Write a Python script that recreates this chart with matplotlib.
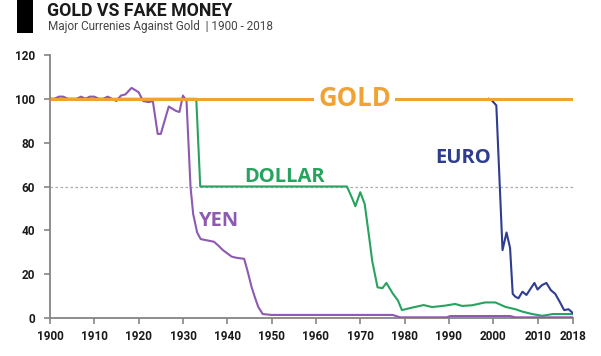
import matplotlib
matplotlib.use("Agg")
import matplotlib.pyplot as plt
from matplotlib.patches import Rectangle

# ---------------- data ----------------
gold_years = [1900, 2018]
gold_values = [100, 100]

yen_years = [1900, 1901, 1902, 1903, 1904, 1905, 1906, 1907, 1908, 1909, 1910,
             1911, 1912, 1913, 1914, 1915, 1916, 1917, 1918.4, 1920, 1921,
             1922.3, 1923.2, 1924.3, 1925, 1926, 1926.8, 1928.4, 1929.2, 1930,
             1930.8, 1931.7, 1932.3, 1933.2, 1934, 1936, 1937, 1938, 1939, 1940,
             1941, 1942, 1943.8, 1944.5, 1945.5, 1946.3, 1947, 1948, 1950, 1977.3,
             1979, 1989.5, 1990.3, 2003.8, 2005, 2018]
yen_values = [100, 100, 101, 101, 100, 100, 100, 101, 100, 101, 101,
              100, 100, 101, 100, 99, 101.5, 102, 105, 103, 99,
              98.5, 99, 84, 84, 91, 96.5, 94.5, 94, 101.5,
              99, 60, 47.5, 39, 36, 35.2, 34.8, 33, 31, 29.5,
              28, 27.5, 27, 22, 14, 9, 5, 1.8, 1.4, 1.4,
              0.3, 0.3, 0.9, 0.9, 0.3, 0.3]

dollar_years = [1900, 1933.0, 1933.9, 1967.0, 1968.2, 1968.9, 1970.0, 1971.0,
                1972.0, 1972.7, 1973.9, 1975.0, 1975.9, 1977.3, 1978.5, 1979.4,
                1981.6, 1984.3, 1986.2, 1989.0, 1991.4, 1993.0, 1995.2, 1998.2,
                2000.5, 2002.7, 2005.0, 2006.6, 2008.8, 2011.1, 2013.4, 2018]
dollar_values = [100, 100, 60, 60, 54.5, 51, 57.4, 52,
                 37, 26, 14, 13.6, 16, 11.3, 8, 3.6,
                 4.7, 5.9, 5.0, 5.6, 6.4, 5.5, 5.8, 7.1,
                 7.1, 5.1, 4.0, 2.9, 1.8, 1.0, 1.8, 1.8]

euro_years = [1999.0, 1999.6, 2000.7, 2002.1, 2003.0, 2003.8, 2004.4, 2005.0,
              2005.7, 2006.6, 2007.5, 2008.5, 2009.3, 2010, 2011, 2012, 2013,
              2014, 2015, 2016, 2017, 2018]
euro_values = [100, 99.5, 97, 31, 39, 32, 11, 9.7,
               9, 12, 10.5, 13.6, 16, 13, 15, 16, 12.7,
               11, 7.4, 3.6, 4, 2.2]

x_ticks = [1900, 1910, 1920, 1930, 1940, 1950, 1960, 1970, 1980, 1990, 2000, 2010, 2018]
y_ticks = [0, 20, 40, 60, 80, 100, 120]

title = "GOLD VS FAKE MONEY"
subtitle = "Major Currenies Against Gold  | 1900 - 2018"

# ---------------- style ----------------
GOLD = "#F0A232"
YEN = "#8E59B0"
DOLLAR = "#27A35E"
EURO = "#2E3D8F"
AXIS = "#858585"

plt.rcParams['font.family'] = ['Roboto', 'DejaVu Sans']
LABEL_FONT = ['Open Sans', 'DejaVu Sans']

W, H = 601, 356
fig = plt.figure(figsize=(W / 100, H / 100), dpi=100)
fig.patch.set_facecolor("white")

left, right, bottom, top = 50, 573, 318, 55
ax = fig.add_axes([left / W, 1 - bottom / H, (right - left) / W, (bottom - top) / H])
ax.set_xlim(1900, 2018)
ax.set_ylim(0, 120)

ax.plot([1900, 2018], [60, 60], color="#AAAAAA", lw=0.9, ls=(0, (2, 2)), zorder=1)

ax.plot(dollar_years, dollar_values, color=DOLLAR, lw=1.5, zorder=3, solid_joinstyle='round')
ax.plot(yen_years, yen_values, color=YEN, lw=1.5, zorder=3, solid_joinstyle='round')
ax.plot(euro_years, euro_values, color=EURO, lw=1.5, zorder=3, solid_joinstyle='round')
ax.plot(gold_years, gold_values, color=GOLD, lw=2.2, zorder=4, solid_capstyle='butt')

ax.text(1968.7, 100, "GOLD", color=GOLD, fontsize=18.5, fontweight='bold',
        family=LABEL_FONT, ha='center', va='center', zorder=5,
        bbox=dict(boxstyle='square,pad=0.15', fc='white', ec='none'))
ax.text(1953, 64.5, "DOLLAR", color=DOLLAR, fontsize=14.5, fontweight='bold',
        family=LABEL_FONT, ha='center', va='center', zorder=5)
ax.text(1938, 44.3, "YEN", color=YEN, fontsize=14.5, fontweight='bold',
        family=LABEL_FONT, ha='center', va='center', zorder=5)
ax.text(1993.1, 73, "EURO", color=EURO, fontsize=14.5, fontweight='bold',
        family=LABEL_FONT, ha='center', va='center', zorder=5)

for s in ['top', 'right']:
    ax.spines[s].set_visible(False)
for s in ['left', 'bottom']:
    ax.spines[s].set_color(AXIS)
    ax.spines[s].set_linewidth(1.3)

ax.set_xticks(x_ticks)
ax.set_xticklabels([str(t) for t in x_ticks])
ax.set_yticks(y_ticks)
ax.set_yticklabels([str(t) for t in y_ticks])
ax.tick_params(axis='both', direction='out', length=4, width=1.2, color=AXIS,
               labelsize=8.5, labelcolor="#1a1a1a")
ax.tick_params(axis='y', pad=7)
ax.tick_params(axis='x', pad=5)
for lab in ax.get_xticklabels() + ax.get_yticklabels():
    lab.set_fontweight('bold')

# header
fig.patches.append(Rectangle((17 / W, 1 - 33 / H), 16 / W, 33 / H,
                             transform=fig.transFigure, fc="black", ec='none'))
fig.text(47 / W, 1 - 15.5 / H, title, fontsize=12.8, fontweight='bold',
         color="#1a1a1a", ha='left', va='baseline')
fig.text(48 / W, 1 - 30 / H, subtitle, fontsize=8.5, color="#444444",
         ha='left', va='baseline')

fig.savefig("out.png", dpi=100, facecolor="white")
